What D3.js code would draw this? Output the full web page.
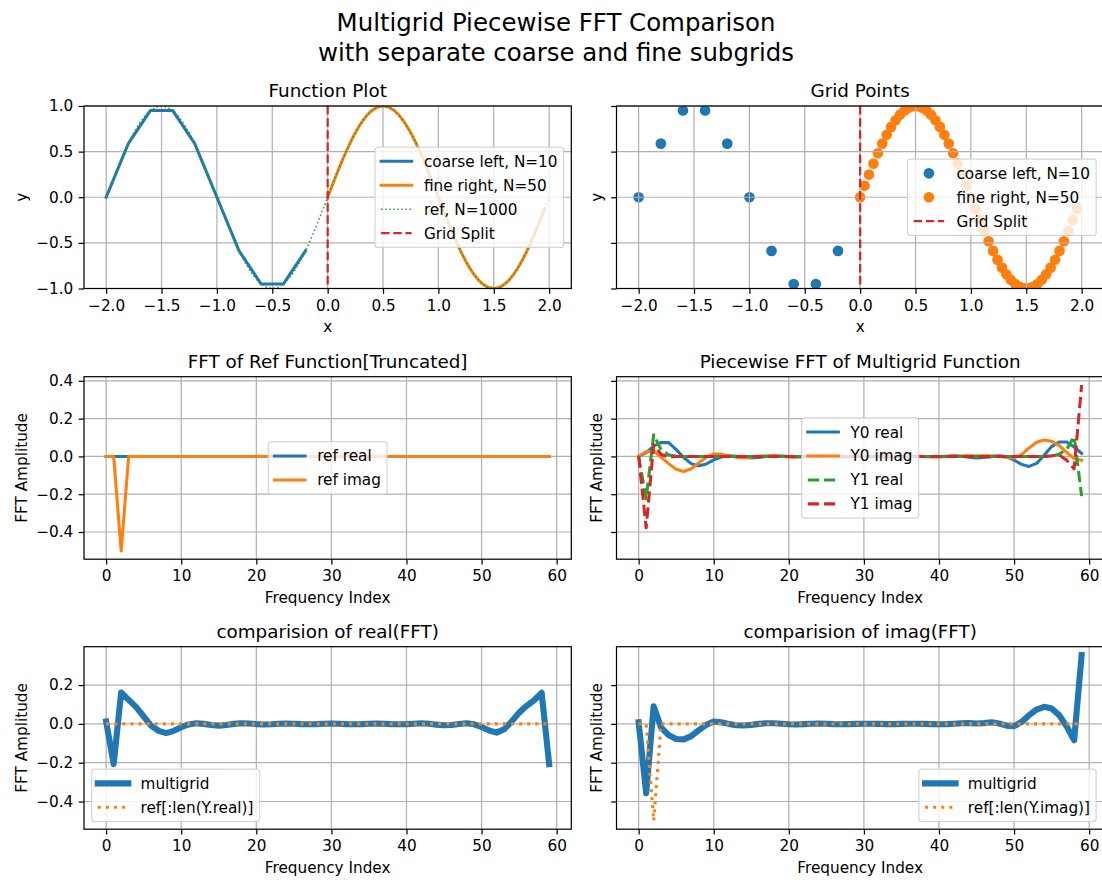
<!DOCTYPE html>
<html><head><meta charset="utf-8">
<script src="https://cdn.jsdelivr.net/npm/d3@7"></script>
<style>
body{margin:0;background:#fff;}
svg{font-family:"DejaVu Sans",sans-serif;display:block;}
</style></head><body>
<svg id="chart" width="1102" height="882"></svg>
<script>
// ---------------- DATA ----------------
const coarseX = [-2,-1.8,-1.6,-1.4,-1.2,-1,-0.8,-0.6,-0.4,-0.2];
const coarseY = [0,0.588,0.951,0.951,0.588,0,-0.588,-0.951,-0.951,-0.588];

const fineX = [0,0.04,0.08,0.12,0.16,0.2,0.24,0.28,0.32,0.36,0.4,0.44,0.48,0.52,0.56,0.6,0.64,0.68,0.72,0.76,
  0.8,0.84,0.88,0.92,0.96,1,1.04,1.08,1.12,1.16,1.2,1.24,1.28,1.32,1.36,1.4,1.44,1.48,1.52,1.56,
  1.6,1.64,1.68,1.72,1.76,1.8,1.84,1.88,1.92,1.96];
const fineY = [0,0.125,0.249,0.368,0.482,0.588,0.685,0.771,0.844,0.905,0.951,0.982,0.998,0.998,0.982,0.951,0.905,0.844,0.771,0.685,
  0.588,0.482,0.368,0.249,0.125,0,-0.125,-0.249,-0.368,-0.482,-0.588,-0.685,-0.771,-0.844,-0.905,-0.951,-0.982,-0.998,-0.998,-0.982,
  -0.951,-0.905,-0.844,-0.771,-0.685,-0.588,-0.482,-0.368,-0.249,-0.125];

const refX = [-2,-1.95,-1.9,-1.85,-1.8,-1.75,-1.7,-1.65,-1.6,-1.55,-1.5,-1.45,-1.4,-1.35,-1.3,-1.25,-1.2,-1.15,-1.1,-1.05,
  -1,-0.95,-0.9,-0.85,-0.8,-0.75,-0.7,-0.65,-0.6,-0.55,-0.5,-0.45,-0.4,-0.35,-0.3,-0.25,-0.2,-0.15,-0.1,-0.05,
  0,0.05,0.1,0.15,0.2,0.25,0.3,0.35,0.4,0.45,0.5,0.55,0.6,0.65,0.7,0.75,0.8,0.85,0.9,0.95,
  1,1.05,1.1,1.15,1.2,1.25,1.3,1.35,1.4,1.45,1.5,1.55,1.6,1.65,1.7,1.75,1.8,1.85,1.9,1.95,2];
const refY = [0,0.156,0.309,0.454,0.588,0.707,0.809,0.891,0.951,0.988,1,0.988,0.951,0.891,0.809,0.707,0.588,0.454,0.309,0.156,
  0,-0.156,-0.309,-0.454,-0.588,-0.707,-0.809,-0.891,-0.951,-0.988,-1,-0.988,-0.951,-0.891,-0.809,-0.707,-0.588,-0.454,-0.309,-0.156,
  0,0.156,0.309,0.454,0.588,0.707,0.809,0.891,0.951,0.988,1,0.988,0.951,0.891,0.809,0.707,0.588,0.454,0.309,0.156,
  0,-0.156,-0.309,-0.454,-0.588,-0.707,-0.809,-0.891,-0.951,-0.988,-1,-0.988,-0.951,-0.891,-0.809,-0.707,-0.588,-0.454,-0.309,-0.156,0];
const gridSplit = 0;

const freqIndex = d3.range(60);
const refReal = [0,0,0,0,0,0,0,0,0,0, 0,0,0,0,0,0,0,0,0,0, 0,0,0,0,0,0,0,0,0,0,
  0,0,0,0,0,0,0,0,0,0, 0,0,0,0,0,0,0,0,0,0, 0,0,0,0,0,0,0,0,0,0];
const refImag = [0,0,-0.5,0,0,0,0,0,0,0, 0,0,0,0,0,0,0,0,0,0, 0,0,0,0,0,0,0,0,0,0,
  0,0,0,0,0,0,0,0,0,0, 0,0,0,0,0,0,0,0,0,0, 0,0,0,0,0,0,0,0,0,0];

const Y0real = [0,0.02,0.055,0.074,0.073,0.036,-0.006,-0.038,-0.05,-0.04,
  -0.018,-0.003,0.003,0.001,-0.005,-0.008,-0.005,0,0.003,0.002,
  -0.001,-0.003,-0.002,0.001,0.002,0.001,-0.001,-0.002,-0.001,0.001,
  0.001,0.001,-0.001,-0.002,-0.001,0.001,0.002,0.001,-0.001,-0.002,
  -0.001,0.001,0.003,0.001,-0.004,-0.008,-0.006,-0.001,0.003,-0.002,
  -0.02,-0.042,-0.053,-0.037,0.006,0.052,0.076,0.076,0.05,0.016];
const Y0imag = [0,0.025,0.028,-0.005,-0.038,-0.068,-0.08,-0.065,-0.035,-0.004,
  0.013,0.012,0.003,-0.005,-0.007,-0.004,0.001,0.004,0.003,0,
  -0.002,-0.003,-0.001,0.001,0.002,0.001,-0.001,-0.002,-0.001,0,
  0.001,0.001,0,-0.001,-0.001,0,0.001,0.001,0,-0.001,
  -0.002,-0.001,0.001,0.003,0.004,0.003,0.004,0.004,0.001,-0.006,
  -0.008,0.01,0.045,0.075,0.087,0.08,0.058,0.022,-0.012,-0.02];
const Y1real = [0,-0.225,0.115,0.035,0.008,0.002,0,0,0,0, 0,0,0,0,0,0,0,0,0,0, 0,0,0,0,0,0,0,0,0,0,
  0,0,0,0,0,0,0,0,0,0, 0,0,0,0,0,0,0,0,0,0, 0,0,0,0,0,0.002,0.012,0.037,0.105,-0.21];
const Y1imag = [0,-0.378,0.062,0.01,-0.004,0,0,0,0,0, 0,0,0,0,0,0,0,0,0,0, 0,0,0,0,0,0,0,0,0,0,
  0,0,0,0,0,0,0,0,0,0, 0,0,0,0,0,0,0,0,0,0, 0,0,0,0,0,0.003,0.008,-0.02,-0.066,0.378];

const multiReal = [0.012,-0.207,0.162,0.124,0.086,0.038,-0.01,-0.036,-0.048,-0.036,
  -0.017,-0.003,0.003,0,-0.006,-0.009,-0.006,0,0.003,0.002,
  -0.001,-0.003,-0.002,0.001,0.002,0.001,-0.001,-0.002,-0.001,0.001,
  0.002,0.001,-0.001,-0.002,-0.001,0.001,0.002,0.001,-0.001,-0.002,
  -0.001,0.001,0.003,0.001,-0.004,-0.007,-0.006,-0.001,0.003,-0.002,
  -0.016,-0.034,-0.045,-0.028,0.012,0.058,0.093,0.122,0.16,-0.207];
const multiImag = [0.008,-0.357,0.091,-0.02,-0.058,-0.078,-0.08,-0.063,-0.033,-0.005,
  0.012,0.008,0,-0.007,-0.008,-0.005,0,0.003,0.003,0.001,
  -0.002,-0.003,-0.001,0.001,0.002,0.001,-0.001,-0.002,-0.001,0,
  0.001,0.001,0,-0.001,-0.001,0,0.001,0.001,0,-0.001,
  -0.002,-0.001,0.001,0.003,0.004,0.002,0.004,0.008,0.002,-0.009,
  -0.012,0.01,0.045,0.074,0.088,0.079,0.045,-0.012,-0.084,0.355];

const xTicksFunc = [-2,-1.5,-1,-0.5,0,0.5,1,1.5,2];
const yTicksFunc = [-1,-0.5,0,0.5,1];
const xTicksFreq = [0,10,20,30,40,50,60];
const yTicksRow2 = [-0.4,-0.2,0,0.2,0.4];
const yTicksRow3 = [-0.4,-0.2,0,0.2];

// ---------------- STYLE / LAYOUT ----------------
const C = {blue:'#1f77b4', orange:'#ff7f0e', green:'#2ca02c', red:'#d62728'};
const PT = 110/72;
const FS = 10*PT, TFS = 12*PT;
const W = 487.3, H = 182.5;
const lefts = [84, 616.5];
const tops = [106, 376.7, 646.7];
const svg = d3.select('#chart');
svg.append('rect').attr('width',1102).attr('height',882).attr('fill','#fff');

svg.append('text').attr('x',556).attr('y',31).attr('text-anchor','middle').attr('font-size',16*PT).attr('fill','#000')
  .text('Multigrid Piecewise FFT Comparison');
svg.append('text').attr('x',556).attr('y',60.5).attr('text-anchor','middle').attr('font-size',16*PT).attr('fill','#000')
  .text('with separate coarse and fine subgrids');

function pad(arrs){
  const lo = d3.min(arrs, a=>d3.min(a)), hi = d3.max(arrs, a=>d3.max(a));
  const m = (hi-lo)*0.05; return [lo-m, hi+m];
}
const fmt1 = d3.format('.1f'), fmt0 = d3.format('d');
let clipN = 0;

function makePanel(o){
  const left = lefts[o.col], top = tops[o.row];
  const x = d3.scaleLinear().domain(o.xDom).range([left, left+W]);
  const y = d3.scaleLinear().domain(o.yDom).range([top+H, top]);
  const g = svg.append('g');
  const id = 'clip'+(clipN++);
  svg.append('defs').append('clipPath').attr('id',id).append('rect')
    .attr('x',left).attr('y',top).attr('width',W).attr('height',H);
  const collG = g.append('g').attr('clip-path',`url(#${id})`);   // scatter collections (below grid)
  const gridG = g.append('g');
  const dataG = g.append('g').attr('clip-path',`url(#${id})`);   // lines (above grid)
  gridG.selectAll('line.gx').data(o.xTicks.filter(t=>x(t)>=left-0.5&&x(t)<=left+W+0.5)).join('line')
    .attr('x1',d=>x(d)).attr('x2',d=>x(d)).attr('y1',top).attr('y2',top+H)
    .attr('stroke','#b0b0b0').attr('stroke-width',0.8*PT);
  gridG.selectAll('line.gy').data(o.yTicks).join('line')
    .attr('y1',d=>y(d)).attr('y2',d=>y(d)).attr('x1',left).attr('x2',left+W)
    .attr('stroke','#b0b0b0').attr('stroke-width',0.8*PT);
  const frame = g.append('g');
  const ax = frame.append('g').attr('transform',`translate(0,${top+H})`)
    .call(d3.axisBottom(x).tickValues(o.xTicks).tickFormat(o.xFmt).tickSize(3.5*PT).tickPadding(3.5*PT).tickSizeOuter(0));
  const ay = frame.append('g').attr('transform',`translate(${left},0)`)
    .call(d3.axisLeft(y).tickValues(o.yTicks).tickFormat(o.yLabels? o.yFmt : ()=>'').tickSize(3.5*PT).tickPadding(3.5*PT).tickSizeOuter(0));
  [ax,ay].forEach(a=>{
    a.select('.domain').remove();
    a.attr('font-family',null).attr('font-size',FS);
    a.selectAll('line').attr('stroke','#000').attr('stroke-width',0.8*PT);
    a.selectAll('text').attr('fill','#000');
  });
  ax.selectAll('text').attr('dy','0.76em');
  frame.append('rect').attr('x',left).attr('y',top).attr('width',W).attr('height',H)
    .attr('fill','none').attr('stroke','#000').attr('stroke-width',0.8*PT);
  frame.append('text').attr('x',left+W/2).attr('y',top-6*PT).attr('text-anchor','middle')
    .attr('font-size',TFS).attr('fill','#000').text(o.title);
  frame.append('text').attr('x',left+W/2).attr('y',top+H+43.7).attr('text-anchor','middle')
    .attr('font-size',FS).attr('fill','#000').text(o.xlabel);
  const ylx = o.yLabels ? left-57.5 : left-15;
  frame.append('text').attr('transform',`translate(${ylx},${top+H/2}) rotate(-90)`).attr('text-anchor','middle')
    .attr('font-size',FS).attr('fill','#000').text(o.ylabel);
  const legG = g.append('g');
  return {x,y,dataG,collG,legG,left,top};
}

function addLine(P, xs, ys, color, lwPt, dash){
  const lw = lwPt*PT;
  const line = d3.line().x((d,i)=>P.x(xs[i])).y(d=>P.y(d));
  P.dataG.append('path').attr('d',line(ys)).attr('fill','none').attr('stroke',color)
    .attr('stroke-width',lw).attr('stroke-linejoin','round')
    .attr('stroke-linecap', dash ? 'butt' : 'square')
    .attr('stroke-dasharray', dash ? dash.map(v=>v*lw).join(',') : null);
}
function addVLine(P, xv, color, lwPt, dash){
  const lw = lwPt*PT;
  P.dataG.append('line').attr('x1',P.x(xv)).attr('x2',P.x(xv)).attr('y1',P.top).attr('y2',P.top+H)
    .attr('stroke',color).attr('stroke-width',lw).attr('stroke-dasharray',dash.map(v=>v*lw).join(','));
}
function addScatter(P, xs, ys, color){
  P.collG.selectAll(null).data(ys).join('circle')
    .attr('cx',(d,i)=>P.x(xs[i])).attr('cy',d=>P.y(d)).attr('r',3*PT)
    .attr('fill',color).attr('stroke',color).attr('stroke-width',1*PT);
}
const DASH = [3.7,1.6], DOT = [1,1.65];

function legend(P, items, loc){
  const bp=0.4*FS, hl=2*FS, htp=0.8*FS, rowH=16.3, pitch=23.94, bap=0.5*FS;
  const lg = P.legG;
  const box = lg.append('rect');
  const txt = items.map(it=>lg.append('text').attr('font-size',FS).attr('fill','#000').text(it.label));
  const tw = d3.max(txt, t=>t.node().getComputedTextLength());
  const bw = bp+hl+htp+tw+bp, bh = 2*bp + items.length*rowH + (items.length-1)*(pitch-rowH);
  const L=P.left, T=P.top, R=P.left+W, B=P.top+H;
  let bx, by;
  if (loc==='center right'){ bx=R-bap-bw; by=T+H/2-bh/2; }
  else if (loc==='center'){ bx=L+W/2-bw/2; by=T+H/2-bh/2; }
  else if (loc==='lower left'){ bx=L+bap; by=B-bap-bh; }
  else { bx=R-bap-bw; by=B-bap-bh; }
  box.attr('x',bx).attr('y',by).attr('width',bw).attr('height',bh).attr('rx',3).attr('ry',3)
    .attr('fill','#fff').attr('fill-opacity',0.8).attr('stroke','#cccccc').attr('stroke-opacity',0.8).attr('stroke-width',0.8*PT);
  items.forEach((it,i)=>{
    const cy = by+bp+rowH/2+i*pitch;
    if (it.type==='dot'){
      lg.append('circle').attr('cx',bx+bp+hl/2).attr('cy',cy).attr('r',3*PT)
        .attr('fill',it.color).attr('stroke',it.color).attr('stroke-width',1*PT);
    } else {
      const lw = it.lw*PT;
      lg.append('line').attr('x1',bx+bp).attr('x2',bx+bp+hl).attr('y1',cy).attr('y2',cy)
        .attr('stroke',it.color).attr('stroke-width',lw)
        .attr('stroke-linecap', it.dash ? 'butt' : 'square')
        .attr('stroke-dasharray', it.dash ? it.dash.map(v=>v*lw).join(',') : null);
    }
    txt[i].attr('x',bx+bp+hl+htp).attr('y',cy+5.5).raise();
  });
}

// ---------------- PANELS ----------------
const xDomFunc = pad([refX]);
const yDomFunc = [-1, 1];
const xDomFreq = pad([freqIndex]);
const yDomRow2 = pad([refReal, refImag, Y0real, Y0imag, Y1real, Y1imag]);
const yDomRow3 = pad([multiReal, refReal, multiImag, refImag]);

// 1 Function plot
const P1 = makePanel({col:0,row:0,xDom:xDomFunc,yDom:yDomFunc,xTicks:xTicksFunc,yTicks:yTicksFunc,xFmt:fmt1,yFmt:fmt1,yLabels:true,
  title:'Function Plot',xlabel:'x',ylabel:'y'});
addLine(P1, coarseX, coarseY, C.blue, 2);
addLine(P1, fineX, fineY, C.orange, 2);
addLine(P1, refX, refY, C.green, 1, DOT);
addVLine(P1, gridSplit, C.red, 1.5, DASH);
legend(P1, [
  {label:'coarse left, N=10', color:C.blue, lw:2},
  {label:'fine right, N=50', color:C.orange, lw:2},
  {label:'ref, N=1000', color:C.green, lw:1, dash:DOT},
  {label:'Grid Split', color:C.red, lw:1.5, dash:DASH}], 'center right');

// 2 Grid points
const P2 = makePanel({col:1,row:0,xDom:xDomFunc,yDom:yDomFunc,xTicks:xTicksFunc,yTicks:yTicksFunc,xFmt:fmt1,yFmt:fmt1,yLabels:false,
  title:'Grid Points',xlabel:'x',ylabel:'y'});
addScatter(P2, coarseX, coarseY, C.blue);
addScatter(P2, fineX, fineY, C.orange);
addVLine(P2, gridSplit, C.red, 1.5, DASH);
legend(P2, [
  {label:'coarse left, N=10', color:C.blue, type:'dot'},
  {label:'fine right, N=50', color:C.orange, type:'dot'},
  {label:'Grid Split', color:C.red, lw:1.5, dash:DASH}], 'center right');

// 3 FFT of ref
const P3 = makePanel({col:0,row:1,xDom:xDomFreq,yDom:yDomRow2,xTicks:xTicksFreq,yTicks:yTicksRow2,xFmt:fmt0,yFmt:fmt1,yLabels:true,
  title:'FFT of Ref Function[Truncated]',xlabel:'Frequency Index',ylabel:'FFT Amplitude'});
addLine(P3, freqIndex, refReal, C.blue, 2);
addLine(P3, freqIndex, refImag, C.orange, 2);
legend(P3, [
  {label:'ref real', color:C.blue, lw:2},
  {label:'ref imag', color:C.orange, lw:2}], 'center');

// 4 Piecewise FFT
const P4 = makePanel({col:1,row:1,xDom:xDomFreq,yDom:yDomRow2,xTicks:xTicksFreq,yTicks:yTicksRow2,xFmt:fmt0,yFmt:fmt1,yLabels:false,
  title:'Piecewise FFT of Multigrid Function',xlabel:'Frequency Index',ylabel:'FFT Amplitude'});
addLine(P4, freqIndex, Y0real, C.blue, 2);
addLine(P4, freqIndex, Y0imag, C.orange, 2);
addLine(P4, freqIndex, Y1real, C.green, 2, DASH);
addLine(P4, freqIndex, Y1imag, C.red, 2, DASH);
legend(P4, [
  {label:'Y0 real', color:C.blue, lw:2},
  {label:'Y0 imag', color:C.orange, lw:2},
  {label:'Y1 real', color:C.green, lw:2, dash:DASH},
  {label:'Y1 imag', color:C.red, lw:2, dash:DASH}], 'center');

// 5 real comparison
const P5 = makePanel({col:0,row:2,xDom:xDomFreq,yDom:yDomRow3,xTicks:xTicksFreq,yTicks:yTicksRow3,xFmt:fmt0,yFmt:fmt1,yLabels:true,
  title:'comparision of real(FFT)',xlabel:'Frequency Index',ylabel:'FFT Amplitude'});
addLine(P5, freqIndex, multiReal, C.blue, 4);
addLine(P5, freqIndex, refReal, C.orange, 2, DOT);
legend(P5, [
  {label:'multigrid', color:C.blue, lw:4},
  {label:'ref[:len(Y.real)]', color:C.orange, lw:2, dash:DOT}], 'lower left');

// 6 imag comparison
const P6 = makePanel({col:1,row:2,xDom:xDomFreq,yDom:yDomRow3,xTicks:xTicksFreq,yTicks:yTicksRow3,xFmt:fmt0,yFmt:fmt1,yLabels:false,
  title:'comparision of imag(FFT)',xlabel:'Frequency Index',ylabel:'FFT Amplitude'});
addLine(P6, freqIndex, multiImag, C.blue, 4);
addLine(P6, freqIndex, refImag, C.orange, 2, DOT);
legend(P6, [
  {label:'multigrid', color:C.blue, lw:4},
  {label:'ref[:len(Y.imag)]', color:C.orange, lw:2, dash:DOT}], 'lower right');
</script></body></html>
